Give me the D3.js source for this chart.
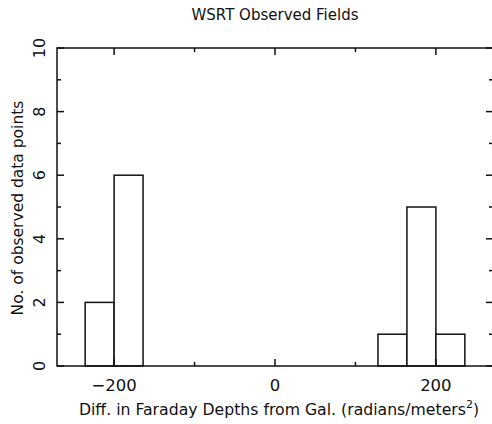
<!DOCTYPE html>
<html><head><meta charset="utf-8">
<script src="https://cdn.jsdelivr.net/npm/d3@7"></script>
<style>body{margin:0;background:#fff}svg{display:block}text{font-family:"DejaVu Sans",sans-serif;fill:#111}</style>
</head><body>
<script>
const binStarts = [-236, -200, 128, 164, 200];
const binEnds   = [-200, -164, 164, 200, 236];
const counts    = [2, 6, 1, 5, 1];
const xTickLabels = [-200, 0, 200];
const yTickLabels = [0, 2, 4, 6, 8, 10];

const W = 492, H = 424;
const svg = d3.select("body").append("svg").attr("width", W).attr("height", H);
const x = d3.scaleLinear().domain([-271, 271]).range([57, 493]);
const y = d3.scaleLinear().domain([0, 10]).range([366, 48]);
const col = "#111", sw = 1.5;

const g = svg.append("g");
g.selectAll("rect.bar").data(counts).join("rect")
  .attr("x", (d,i) => x(binStarts[i])).attr("width", (d,i) => x(binEnds[i]) - x(binStarts[i]))
  .attr("y", d => y(d)).attr("height", d => y(0) - y(d))
  .attr("fill", "#fff").attr("stroke", col).attr("stroke-width", sw);

g.append("rect").attr("x", x.range()[0]).attr("y", y.range()[1])
  .attr("width", x.range()[1]-x.range()[0]).attr("height", y.range()[0]-y.range()[1])
  .attr("fill", "none").attr("stroke", col).attr("stroke-width", sw);

const xMajor = [-200, 0, 200], xMinor = [-100, 100];
function xt(vals, len) {
  vals.forEach(v => {
    g.append("line").attr("x1", x(v)).attr("x2", x(v)).attr("y1", y(0)).attr("y2", y(0)-len).attr("stroke", col).attr("stroke-width", sw);
    g.append("line").attr("x1", x(v)).attr("x2", x(v)).attr("y1", y(10)).attr("y2", y(10)+len).attr("stroke", col).attr("stroke-width", sw);
  });
}
xt(xMajor, 7); xt(xMinor, 4);
const yMajor = d3.range(0, 11, 2), yMinor = d3.range(1, 10, 2);
function yt(vals, len) {
  vals.forEach(v => {
    g.append("line").attr("x1", x.range()[0]).attr("x2", x.range()[0]+len).attr("y1", y(v)).attr("y2", y(v)).attr("stroke", col).attr("stroke-width", sw);
    g.append("line").attr("x1", x.range()[1]).attr("x2", x.range()[1]-len).attr("y1", y(v)).attr("y2", y(v)).attr("stroke", col).attr("stroke-width", sw);
  });
}
yt(yMajor, 7); yt(yMinor, 4);

g.selectAll("text.xl").data(xTickLabels).join("text")
  .attr("x", d => x(d)).attr("y", 391).attr("text-anchor", "middle").attr("font-size", 16.5)
  .text(d => d < 0 ? "\u2212" + Math.abs(d) : d);
g.selectAll("text.yl").data(yTickLabels).join("text")
  .attr("transform", d => `translate(45,${y(d)}) rotate(-90)`).attr("text-anchor", "middle").attr("font-size", 16)
  .text(d => d);

svg.append("text").attr("x", 275).attr("y", 20).attr("text-anchor", "middle").attr("font-size", 15).text("WSRT Observed Fields");
const xl = svg.append("text").attr("x", 279).attr("y", 415).attr("text-anchor", "middle").attr("font-size", 15.7);
xl.append("tspan").text("Diff. in Faraday Depths from Gal. (radians/meters");
xl.append("tspan").attr("dy", -7).attr("font-size", 11).text("2");
xl.append("tspan").attr("dy", 7).text(")");
svg.append("text").attr("transform", "translate(23,208) rotate(-90)").attr("text-anchor", "middle").attr("font-size", 15.5).text("No. of observed data points");
</script>
</body></html>
